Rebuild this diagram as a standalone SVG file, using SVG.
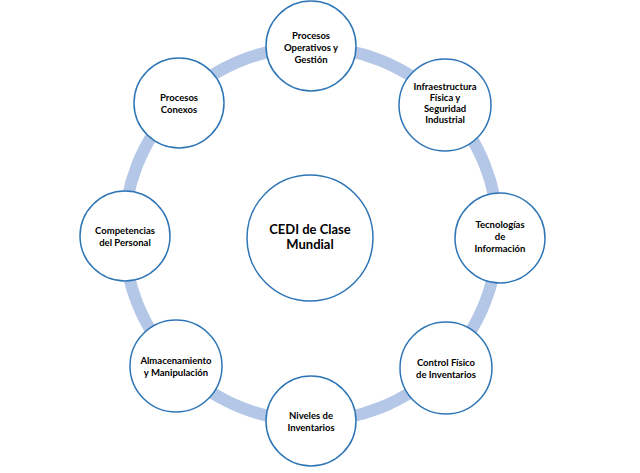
<svg xmlns="http://www.w3.org/2000/svg" width="640" height="473" viewBox="0 0 640 473">
<style>
.n{fill:#fff;stroke:#2e75b6;stroke-width:1.5}
text{font-family:Lato,"Open Sans",sans-serif;font-weight:bold;font-size:9.5px;fill:#000;text-anchor:middle}
.c{font-size:13px}
</style>
<rect width="640" height="473" fill="#fff"/>
<g id="connectors"><circle cx="311" cy="234" r="187" fill="none" stroke="#b4c7e7" stroke-width="12"/></g>
<g id="center"><circle class="n" cx="310" cy="238" r="63"/><text class="c" x="310" y="234">CEDI de Clase</text><text class="c" x="310" y="249">Mundial</text></g>
<g id="n1"><circle class="n" cx="311" cy="46" r="45"/><text x="311" y="39">Procesos</text><text x="311" y="51">Operativos y</text><text x="311" y="63">Gestión</text></g>
<g id="n2"><circle class="n" cx="445" cy="105" r="46"/><text x="445" y="90">Infraestructura</text><text x="445" y="101">Física y</text><text x="445" y="112">Seguridad</text><text x="445" y="123">Industrial</text></g>
<g id="n3"><circle class="n" cx="500" cy="238" r="45"/><text x="500" y="228">Tecnologías</text><text x="500" y="240">de</text><text x="500" y="252">Información</text></g>
<g id="n4"><circle class="n" cx="446" cy="368" r="46"/><text x="446" y="366">Control Físico</text><text x="446" y="378">de Inventarios</text></g>
<g id="n5"><circle class="n" cx="311" cy="421" r="45"/><text x="311" y="419">Niveles de</text><text x="311" y="431">Inventarios</text></g>
<g id="n6"><circle class="n" cx="176" cy="366" r="46"/><text x="176" y="364">Almacenamiento</text><text x="176" y="376">y Manipulación</text></g>
<g id="n7"><circle class="n" cx="125" cy="236" r="45"/><text x="125" y="234">Competencias</text><text x="125" y="246">del Personal</text></g>
<g id="n8"><circle class="n" cx="179" cy="103" r="45"/><text x="179" y="101">Procesos</text><text x="179" y="113">Conexos</text></g>
</svg>
